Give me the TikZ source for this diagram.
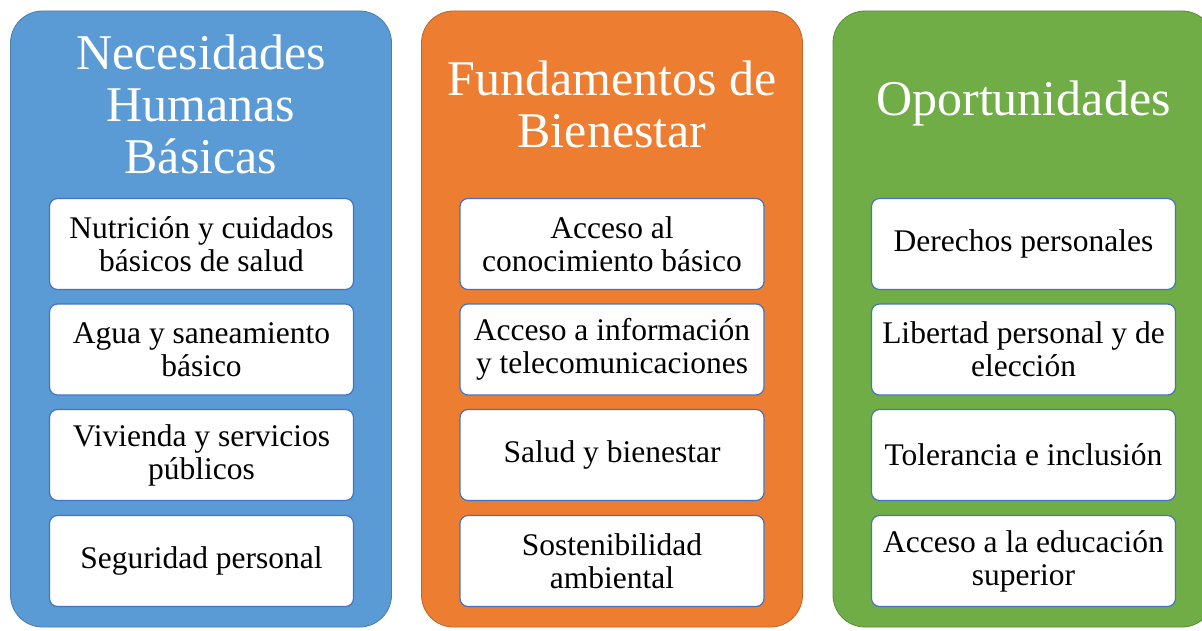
\documentclass[tikz,border=0pt]{standalone}
\usepackage{fontspec}
\setmainfont{Liberation Serif}
\usetikzlibrary{positioning}
\definecolor{panelblue}{HTML}{5B9BD5}
\definecolor{panelorange}{HTML}{ED7D31}
\definecolor{panelgreen}{HTML}{70AD47}
\definecolor{itemline}{HTML}{4472C4}

\begin{document}
\begin{tikzpicture}[
    x=1pt, y=-1pt,
    panel/.style={
        rectangle,
        rounded corners=32pt,
        minimum width=381pt,
        minimum height=616pt,
        draw=#1!80!black,
        line width=0.8pt,
        fill=#1
    },
    heading/.style={
        align=center,
        text=white,
        font=\fontsize{50}{52}\selectfont
    },
    item/.style={
        rectangle,
        rounded corners=8pt,
        minimum width=304pt,
        minimum height=91pt,
        draw=itemline,
        line width=1.2pt,
        fill=white,
        align=center,
        inner sep=2pt,
        font=\fontsize{31.5}{33}\selectfont
    }
]

\useasboundingbox (0,0) rectangle (1202,631);
\clip (0,0) rectangle (1202,631);

% Panels
\node[panel=panelblue] (basicas) at (201,319) {};
\node[panel=panelorange] (bienestar) at (612,319) {};
\node[panel=panelgreen] (oportunidades) at (1023.5,319) {};

% Headings
\node[heading] (tbasicas) at (201,104) {Necesidades\\Humanas\\Básicas};
\node[heading] (tbienestar) at (612,104) {Fundamentos de\\Bienestar};
\node[heading] (toportunidades) at (1023.5,103) {Oportunidades};

% Necesidades humanas basicas
\node[item] (nutricion) at (201.5,244) {Nutrición y cuidados\\básicos de salud};
\node[item] (agua) at (201.5,349.5) {Agua y saneamiento\\básico};
\node[item] (vivienda) at (201.5,455) {Vivienda y servicios\\públicos};
\node[item] (seguridad) at (201.5,561) {Seguridad personal};

% Fundamentos de bienestar
\node[item] (conocimiento) at (612,244) {Acceso al\\conocimiento básico};
\node[item] (informacion) at (612,349.5) {Acceso a información\\y telecomunicaciones};
\node[item] (salud) at (612,455) {Salud y bienestar};
\node[item] (ambiental) at (612,561) {Sostenibilidad\\ambiental};

% Oportunidades
\node[item] (derechos) at (1023.5,244) {Derechos personales};
\node[item] (libertad) at (1023.5,349.5) {Libertad personal y de\\elección};
\node[item] (tolerancia) at (1023.5,455) {Tolerancia e inclusión};
\node[item] (educacion) at (1023.5,561) {Acceso a la educación\\superior};

\end{tikzpicture}
\end{document}
